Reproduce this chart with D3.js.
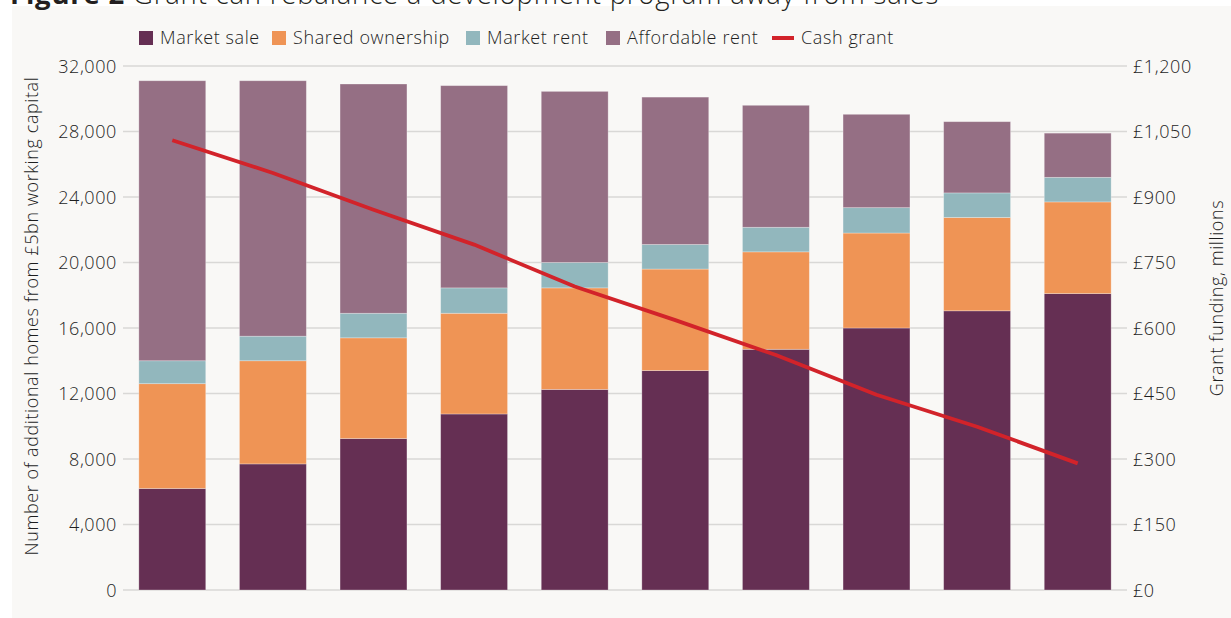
<!DOCTYPE html>
<html><head><meta charset="utf-8">
<script src="https://cdn.jsdelivr.net/npm/d3@7"></script>
<style>
html,body{margin:0;padding:0;background:#ffffff;}
svg{display:block;font-family:"Open Sans",sans-serif;}
</style></head>
<body>
<svg id="chart" width="1231" height="618"></svg>
<script>
const categories = ["1","2","3","4","5","6","7","8","9","10"];
const marketSale = [6200, 7700, 9250, 10750, 12250, 13400, 14700, 16000, 17050, 18100];
const sharedOwnership = [6400, 6300, 6150, 6150, 6200, 6200, 5950, 5800, 5700, 5600];
const marketRent = [1400, 1500, 1500, 1550, 1550, 1500, 1500, 1550, 1500, 1500];
const affordableRent = [17100, 15600, 14000, 12350, 10450, 9000, 7450, 5700, 4350, 2700];
const cashGrant = [1030, 955, 871, 791, 695, 618, 538, 447, 374, 290];
const leftTicks = [0, 4000, 8000, 12000, 16000, 20000, 24000, 28000, 32000];
const rightTicks = [0, 150, 300, 450, 600, 750, 900, 1050, 1200];
const seriesNames = ["Market sale", "Shared ownership", "Market rent", "Affordable rent"];
const seriesColors = ["#652f53", "#ef9455", "#92b7bd", "#956f84"];
const lineName = "Cash grant";
const lineColor = "#d2232a";

const svg = d3.select("#chart");
const W = 1231, H = 618;
const textColor = "#1e1e1e";
const FS = 18, LS = 0.6, FW = 300;

// panel background
svg.append("rect").attr("x", 12).attr("y", 6).attr("width", W - 12).attr("height", H - 6).attr("fill", "#f9f8f6");

// title (partially cut at top, as in the source)
const title = svg.append("text").attr("x", 10).attr("y", 4).attr("font-size", 27.5).attr("letter-spacing", 0.8).attr("fill", "#231f20");
title.append("tspan").attr("font-weight", 700).text("Figure 2 ");
title.append("tspan").attr("font-weight", 300).text("Grant can rebalance a development program away from sales");

const x = d3.scaleBand().domain(categories).range([122, 1128]).paddingInner(0.335).paddingOuter(0.1675);
const y = d3.scaleLinear().domain([0, 32000]).range([590, 66]);
const y2 = d3.scaleLinear().domain([0, 1200]).range([590, 66]);

// gridlines
svg.append("g").selectAll("line").data(leftTicks).join("line")
  .attr("x1", 123).attr("x2", 1127)
  .attr("y1", d => y(d)).attr("y2", d => y(d))
  .attr("stroke", "#d9d8d6").attr("stroke-width", 1.6);

function styleTicks(g) {
  g.select(".domain").remove();
  g.selectAll("text").attr("font-size", FS).attr("font-weight", FW).attr("letter-spacing", LS)
    .attr("fill", textColor).attr("font-family", "Open Sans, sans-serif").attr("dy", "0.34em");
}

// left axis labels
const yAxis = d3.axisLeft(y).tickValues(leftTicks).tickSize(0).tickPadding(0).tickFormat(d3.format(","));
svg.append("g").attr("transform", "translate(117,0)").call(yAxis).call(styleTicks);

// right axis labels
const y2Axis = d3.axisRight(y2).tickValues(rightTicks).tickSize(0).tickPadding(0).tickFormat(d => "£" + d3.format(",")(d));
svg.append("g").attr("transform", "translate(1133,0)").call(y2Axis).call(styleTicks);

// stacked bars
const rows = categories.map((c, i) => ({cat: c, ms: marketSale[i], so: sharedOwnership[i], mr: marketRent[i], ar: affordableRent[i]}));
const stacked = d3.stack().keys(["ms", "so", "mr", "ar"])(rows);
svg.append("g").selectAll("g").data(stacked).join("g")
  .attr("fill", (d, i) => seriesColors[i])
  .selectAll("rect").data(d => d).join("rect")
  .attr("x", d => x(d.data.cat))
  .attr("width", x.bandwidth())
  .attr("y", d => y(d[1]))
  .attr("height", d => y(d[0]) - y(d[1]))
  .attr("stroke", "#ffffff").attr("stroke-opacity", 0.35).attr("stroke-width", 0.8);

// cash grant line
const line = d3.line().x((d, i) => x(categories[i]) + x.bandwidth() / 2).y(d => y2(d));
svg.append("path").datum(cashGrant).attr("d", line)
  .attr("fill", "none").attr("stroke", lineColor).attr("stroke-width", 3.8).attr("stroke-linejoin", "round");

// axis titles
svg.append("text").attr("transform", "translate(38,316) rotate(-90)").attr("text-anchor", "middle")
  .attr("font-size", FS).attr("font-weight", FW).attr("letter-spacing", LS).attr("fill", textColor)
  .text("Number of additional homes from £5bn working capital");
svg.append("text").attr("transform", "translate(1223,298) rotate(-90)").attr("text-anchor", "middle")
  .attr("font-size", FS).attr("font-weight", FW).attr("letter-spacing", LS).attr("fill", textColor)
  .text("Grant funding, millions");

// legend
const legendItems = seriesNames.map((n, i) => ({name: n, color: seriesColors[i], type: "box"}))
  .concat([{name: lineName, color: lineColor, type: "line"}]);
const legendX = [139, 272, 466, 606, 772];
const lg = svg.append("g");
legendItems.forEach((it, i) => {
  const g = lg.append("g").attr("transform", `translate(${legendX[i]},38)`);
  if (it.type === "box") {
    g.append("rect").attr("x", 0).attr("y", -7).attr("width", 14).attr("height", 14).attr("fill", it.color);
    g.append("text").attr("x", 21).attr("y", 0).attr("dy", "0.35em").attr("font-size", FS).attr("font-weight", FW)
      .attr("letter-spacing", LS).attr("fill", textColor).text(it.name);
  } else {
    g.append("line").attr("x1", 0).attr("x2", 22).attr("y1", 0).attr("y2", 0).attr("stroke", it.color).attr("stroke-width", 4);
    g.append("text").attr("x", 29).attr("y", 0).attr("dy", "0.35em").attr("font-size", FS).attr("font-weight", FW)
      .attr("letter-spacing", LS).attr("fill", textColor).text(it.name);
  }
});
</script>
</body></html>
